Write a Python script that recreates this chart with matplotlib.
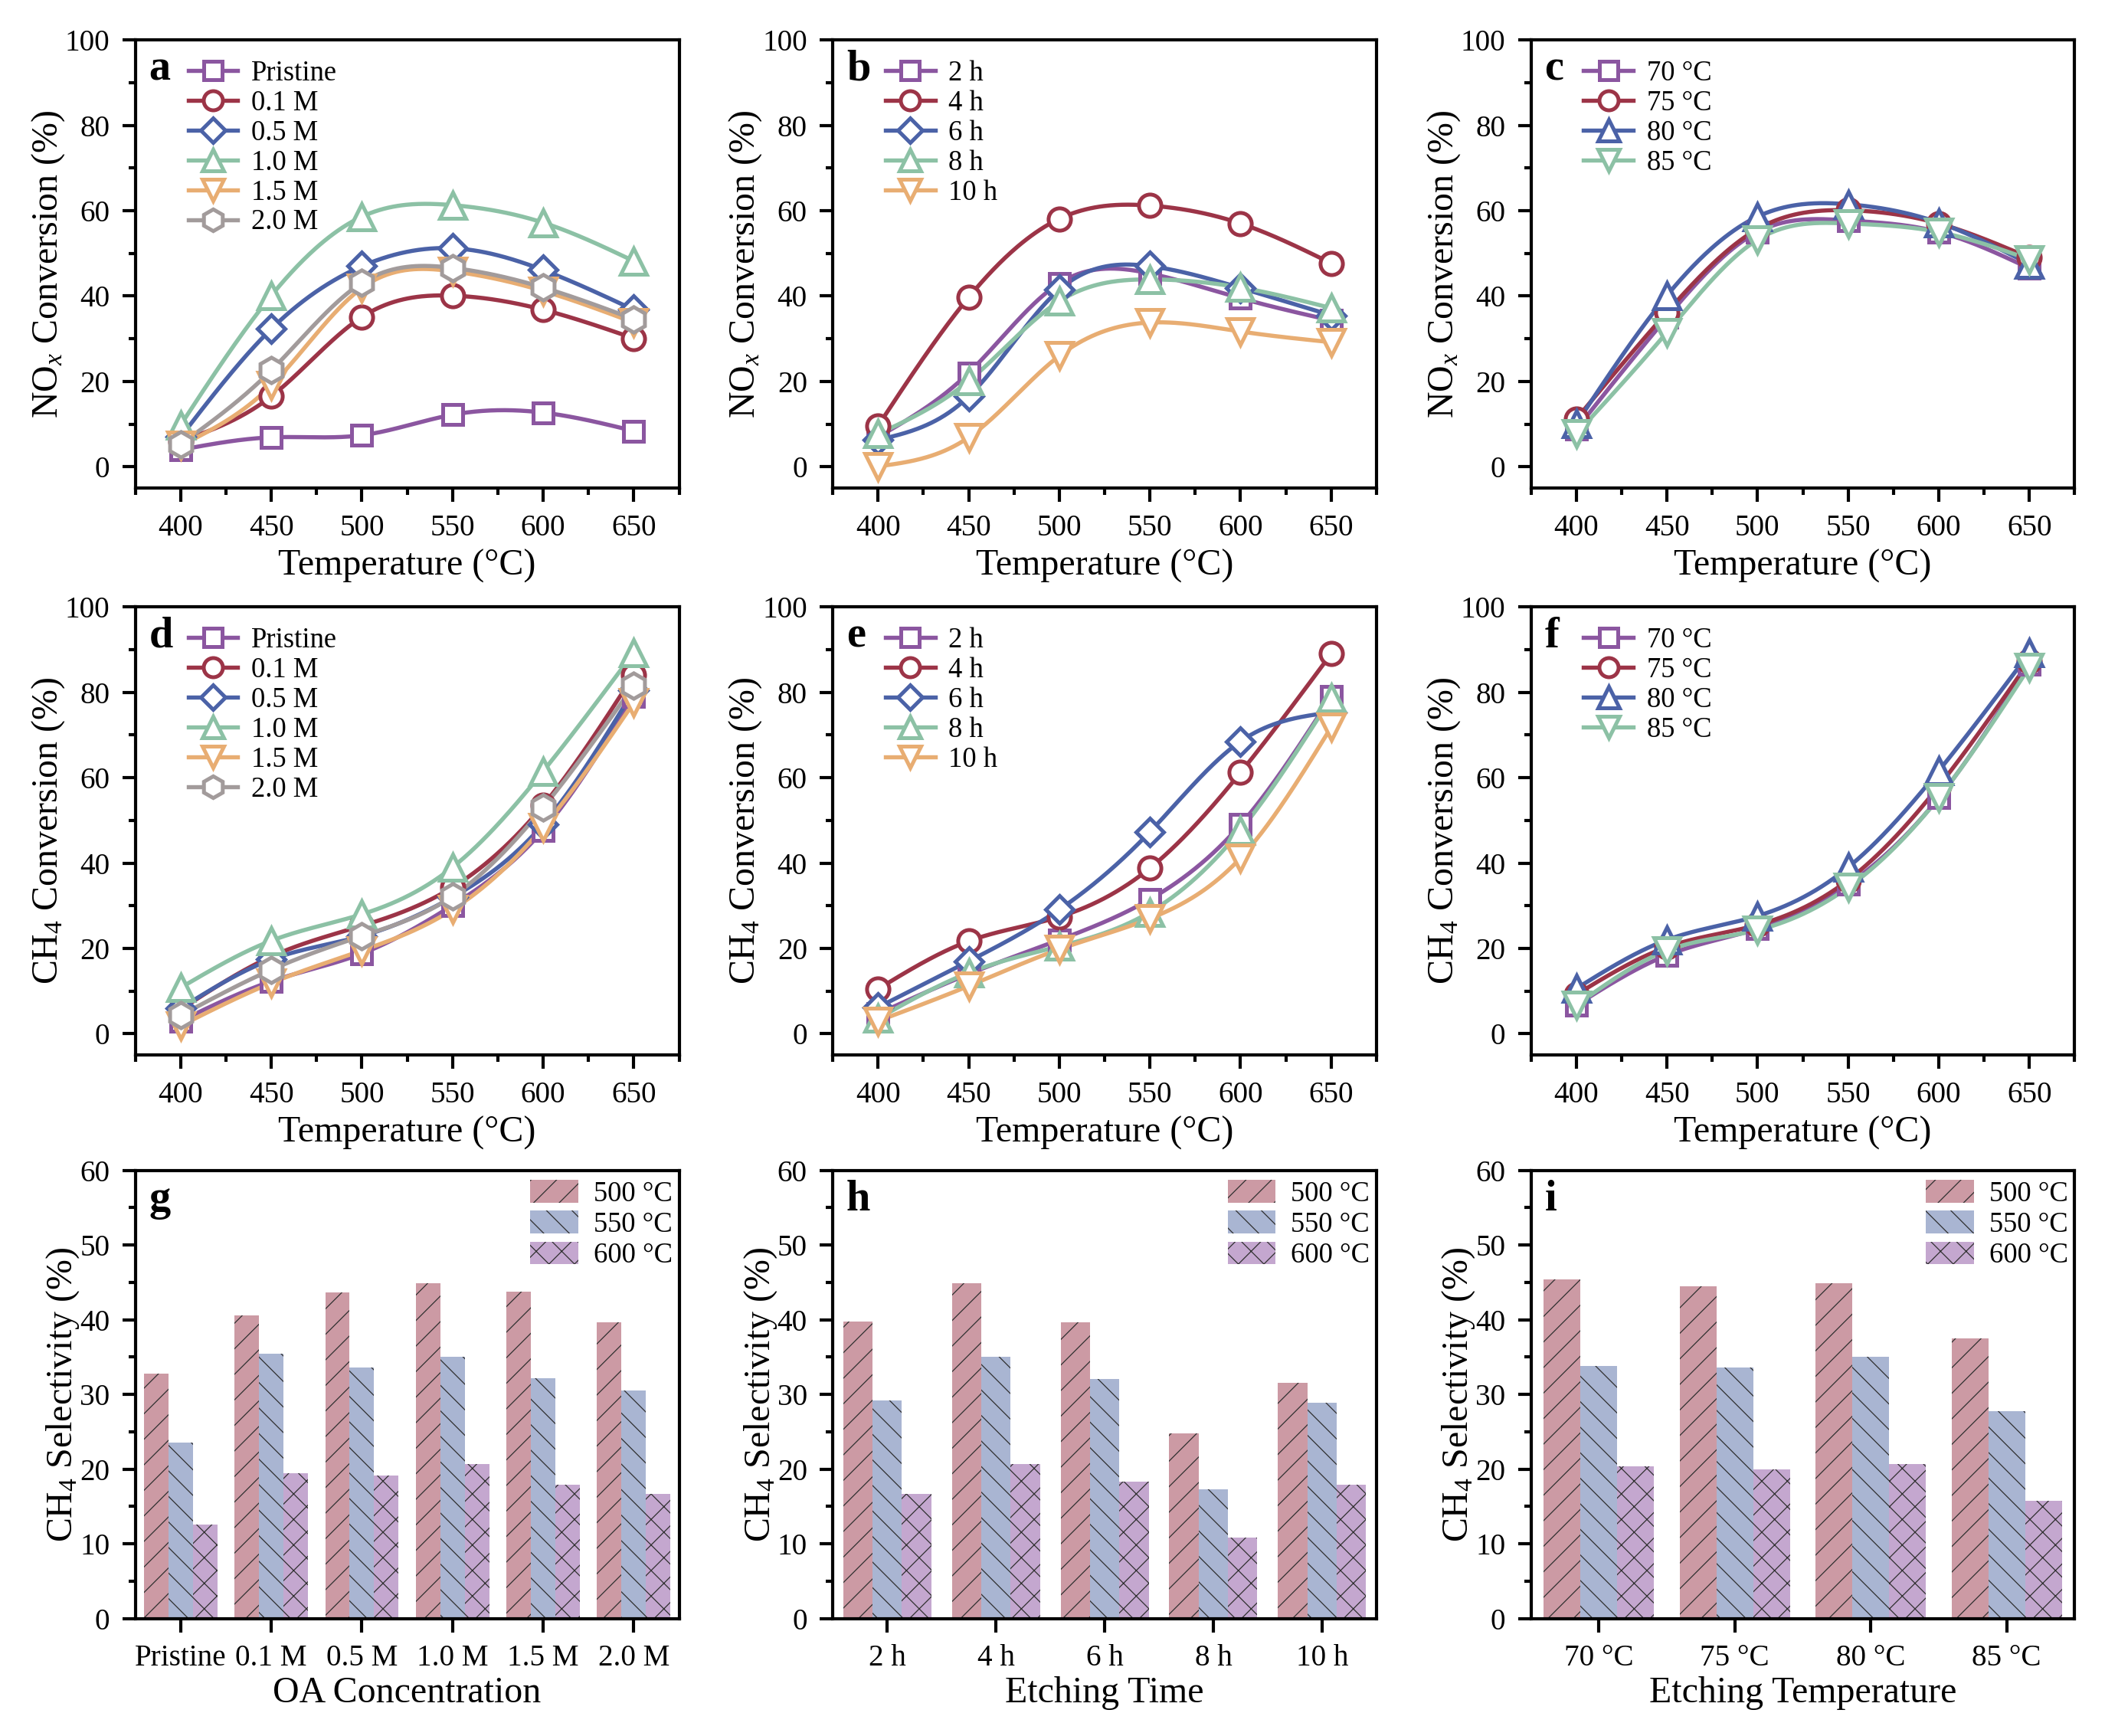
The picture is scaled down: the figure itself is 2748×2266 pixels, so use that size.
import numpy as np
import matplotlib
matplotlib.use("Agg")
import matplotlib.pyplot as plt
from matplotlib.lines import Line2D
from matplotlib.ticker import MultipleLocator

plt.rcParams['font.family'] = ['Liberation Serif', 'DejaVu Serif']
plt.rcParams['mathtext.fontset'] = 'custom'
plt.rcParams['mathtext.rm'] = 'Liberation Serif'
plt.rcParams['mathtext.it'] = 'Liberation Serif:italic'
plt.rcParams['hatch.linewidth'] = 0.3
plt.rcParams['hatch.color'] = '#303030'

# ---------------- data ----------------
temps = [400, 450, 500, 550, 600, 650]

conc_labels = ['Pristine', '0.1 M', '0.5 M', '1.0 M', '1.5 M', '2.0 M']
time_labels = ['2 h', '4 h', '6 h', '8 h', '10 h']
etch_t_labels = ['70 °C', '75 °C', '80 °C', '85 °C']

# NOx conversion (%), panel a
nox_pristine = [4.0, 6.9, 7.4, 12.2, 12.7, 8.4]
nox_01 = [6.0, 16.5, 35.1, 40.1, 36.8, 30.1]
nox_05 = [7.0, 32.3, 47.0, 51.2, 46.1, 36.8]
nox_10 = [9.8, 40.1, 58.6, 61.3, 57.2, 48.2]
nox_15 = [5.0, 19.1, 41.9, 45.8, 41.2, 33.8]
nox_20 = [5.3, 22.6, 43.1, 46.6, 42.0, 34.6]

# NOx conversion (%), panel b
nox_2h = [7.0, 22.0, 43.0, 45.3, 39.5, 34.3]
nox_4h = [9.6, 39.7, 58.1, 61.2, 57.0, 47.7]
nox_6h = [6.3, 16.5, 41.5, 47.0, 41.9, 35.5]
nox_8h = [7.7, 20.1, 38.8, 43.9, 42.0, 37.2]
nox_10h = [0.1, 6.9, 26.0, 33.8, 31.7, 29.2]

# NOx conversion (%), panel c
nox_70 = [8.8, 35.0, 55.0, 57.7, 55.0, 46.5]
nox_75 = [11.2, 36.2, 55.7, 60.1, 57.0, 49.0]
nox_80 = [10.1, 40.1, 58.6, 61.5, 57.2, 47.5]
nox_85 = [7.7, 31.5, 53.2, 57.0, 55.0, 48.6]

# CH4 conversion (%), panel d
ch4_pristine = [3.0, 12.3, 18.8, 30.1, 47.7, 79.0]
ch4_01 = [5.7, 18.1, 25.3, 34.3, 53.5, 84.0]
ch4_05 = [6.0, 17.4, 22.9, 32.0, 49.1, 80.4]
ch4_10 = [10.8, 21.8, 28.0, 39.0, 61.5, 89.3]
ch4_15 = [1.9, 11.9, 19.5, 29.1, 48.4, 77.6]
ch4_20 = [4.3, 15.0, 22.9, 32.2, 53.0, 81.6]

# CH4 conversion (%), panel e
ch4_2h = [4.7, 14.0, 22.0, 31.5, 49.0, 79.0]
ch4_4h = [10.5, 21.7, 27.4, 38.8, 61.2, 89.0]
ch4_6h = [6.2, 17.0, 29.1, 47.3, 68.5, 75.3]
ch4_8h = [3.6, 14.3, 20.5, 28.5, 47.7, 78.7]
ch4_10h = [3.0, 11.2, 19.8, 27.0, 41.2, 71.8]

# CH4 conversion (%), panel f
ch4_70 = [6.7, 18.4, 24.6, 35.0, 55.3, 86.6]
ch4_75 = [9.2, 20.3, 25.5, 36.0, 58.0, 87.3]
ch4_80 = [10.6, 22.0, 27.6, 39.0, 61.6, 89.2]
ch4_85 = [6.7, 19.5, 24.3, 34.3, 55.3, 85.9]

# CH4 selectivity (%), panels g, h, i
sel_g_500 = [32.8, 40.6, 43.6, 44.9, 43.7, 39.6]
sel_g_550 = [23.5, 35.4, 33.6, 35.0, 32.2, 30.5]
sel_g_600 = [12.6, 19.4, 19.1, 20.7, 17.9, 16.7]

sel_h_500 = [39.7, 44.9, 39.6, 24.8, 31.5]
sel_h_550 = [29.2, 35.0, 32.1, 17.3, 28.9]
sel_h_600 = [16.7, 20.7, 18.3, 10.8, 17.9]

sel_i_500 = [45.4, 44.5, 44.9, 37.5]
sel_i_550 = [33.8, 33.6, 35.0, 27.8]
sel_i_600 = [20.4, 20.0, 20.7, 15.8]

# ---------------- styles ----------------
purple = '#8B56A0'
red = '#9C3447'
blue = '#4B62A7'
green = '#8CC1A5'
orange = '#E8AD72'
gray = '#A29B9B'
bar_colors = ['#CC9AA4', '#A9B5D2', '#C4A7CF']
bar_hatches = ['///', '\\\\\\', 'xxx']
msize = {'s': 6.2, 'o': 7.0, 'D': 6.0, '^': 8.2, 'v': 8.2, 'h': 8.0}
leg_msize = {'s': 5.6, 'o': 6.0, 'D': 5.3, '^': 6.8, 'v': 6.8, 'h': 6.8}

TICK = 9.4
LEG = 8.8
LAB = 11.5
LET = 13.5

fig = plt.figure(figsize=(2748 / 300, 2266 / 300), dpi=300)
lefts = [0.0643, 0.3956, 0.7273]
bottoms = [0.7188, 0.3922, 0.0677]
W, H = 0.2583, 0.2582


def spline(x, y, n=300):
    # natural cubic spline, used only to draw the smooth connecting line
    x = np.asarray(x, float)
    y = np.asarray(y, float)
    k = len(x)
    h = np.diff(x)
    A = np.zeros((k, k))
    b = np.zeros(k)
    A[0, 0] = A[-1, -1] = 1
    for i in range(1, k - 1):
        A[i, i - 1] = h[i - 1]
        A[i, i] = 2 * (h[i - 1] + h[i])
        A[i, i + 1] = h[i]
        b[i] = 6 * ((y[i + 1] - y[i]) / h[i] - (y[i] - y[i - 1]) / h[i - 1])
    M = np.linalg.solve(A, b)
    xx = np.linspace(x[0], x[-1], n)
    idx = np.clip(np.searchsorted(x, xx) - 1, 0, k - 2)
    x0, x1 = x[idx], x[idx + 1]
    hh = x1 - x0
    t0, t1 = x1 - xx, xx - x0
    yy = (M[idx] * t0 ** 3 + M[idx + 1] * t1 ** 3) / (6 * hh) \
        + (y[idx] / hh - M[idx] * hh / 6) * t0 + (y[idx + 1] / hh - M[idx + 1] * hh / 6) * t1
    return xx, yy


def style_axes(ax):
    for s in ax.spines.values():
        s.set_linewidth(1.0)
    ax.tick_params(which='both', direction='out', top=False, right=False,
                   labelsize=TICK, width=1.0, pad=3.8)
    ax.tick_params(which='major', length=4.2)
    ax.tick_params(which='minor', length=2.2)


def line_panel(col, row, letter, labels, series, markers, colors, ylabel):
    ax = fig.add_axes([lefts[col], bottoms[row], W, H])
    handles = []
    for lab, ys, m, c in zip(labels, series, markers, colors):
        xx, yy = spline(temps, ys)
        ax.plot(xx, yy, color=c, lw=1.3, zorder=2)
        ax.plot(temps, ys, ls='none', marker=m, ms=msize[m], mfc='white',
                mec=c, mew=1.2, zorder=3)
        handles.append(Line2D([], [], color=c, lw=1.3, marker=m, ms=leg_msize[m],
                              mfc='white', mec=c, mew=1.2, label=lab))
    ax.set_xlim(375, 675)
    ax.set_ylim(-5, 100)
    ax.xaxis.set_major_locator(MultipleLocator(50))
    ax.xaxis.set_minor_locator(MultipleLocator(25))
    ax.yaxis.set_major_locator(MultipleLocator(20))
    ax.yaxis.set_minor_locator(MultipleLocator(10))
    style_axes(ax)
    ax.set_xlabel('Temperature (°C)', fontsize=LAB, labelpad=2.2)
    ax.set_ylabel(ylabel, fontsize=LAB, labelpad=-0.5)
    ax.text(0.025, 0.91, letter, transform=ax.transAxes, fontsize=LET,
            fontweight='bold', va='baseline', ha='left')
    ax.legend(handles=handles, loc='upper left', bbox_to_anchor=(0.097, 0.955),
              frameon=False, fontsize=LEG, handlelength=1.77, handletextpad=0.47,
              labelspacing=0.12, borderpad=0, borderaxespad=0)
    return ax


def bar_panel(col, letter, cats, v500, v550, v600, xlabel):
    ax = fig.add_axes([lefts[col], bottoms[2], W, H])
    x = np.arange(len(cats))
    w = 0.27
    for off, vals, c, hatch, lab in zip([-w, 0, w], [v500, v550, v600], bar_colors,
                                        bar_hatches, ['500 °C', '550 °C', '600 °C']):
        ax.bar(x + off, vals, w, color=c, hatch=hatch, linewidth=0, label=lab, zorder=2)
    ax.set_xlim(-0.5, len(cats) - 0.5)
    ax.set_ylim(0, 60)
    ax.set_xticks(x)
    ax.set_xticklabels(cats)
    ax.yaxis.set_major_locator(MultipleLocator(10))
    ax.yaxis.set_minor_locator(MultipleLocator(5))
    style_axes(ax)
    ax.set_xlabel(xlabel, fontsize=LAB, labelpad=1.2)
    ax.set_ylabel('CH$_4$ Selectivity (%)', fontsize=LAB, labelpad=-0.5)
    ax.text(0.025, 0.91, letter, transform=ax.transAxes, fontsize=LET,
            fontweight='bold', va='baseline', ha='left')
    ax.legend(loc='upper right', bbox_to_anchor=(0.988, 0.978), frameon=False,
              fontsize=LEG, handlelength=1.7, handleheight=0.85, handletextpad=0.55,
              labelspacing=0.13, borderpad=0, borderaxespad=0)
    return ax


nox_lab = 'NO$_x$ Conversion (%)'
ch4_lab = 'CH$_4$ Conversion (%)'

line_panel(0, 0, 'a', conc_labels,
           [nox_pristine, nox_01, nox_05, nox_10, nox_15, nox_20],
           ['s', 'o', 'D', '^', 'v', 'h'], [purple, red, blue, green, orange, gray], nox_lab)
line_panel(1, 0, 'b', time_labels,
           [nox_2h, nox_4h, nox_6h, nox_8h, nox_10h],
           ['s', 'o', 'D', '^', 'v'], [purple, red, blue, green, orange], nox_lab)
line_panel(2, 0, 'c', etch_t_labels,
           [nox_70, nox_75, nox_80, nox_85],
           ['s', 'o', '^', 'v'], [purple, red, blue, green], nox_lab)

line_panel(0, 1, 'd', conc_labels,
           [ch4_pristine, ch4_01, ch4_05, ch4_10, ch4_15, ch4_20],
           ['s', 'o', 'D', '^', 'v', 'h'], [purple, red, blue, green, orange, gray], ch4_lab)
line_panel(1, 1, 'e', time_labels,
           [ch4_2h, ch4_4h, ch4_6h, ch4_8h, ch4_10h],
           ['s', 'o', 'D', '^', 'v'], [purple, red, blue, green, orange], ch4_lab)
line_panel(2, 1, 'f', etch_t_labels,
           [ch4_70, ch4_75, ch4_80, ch4_85],
           ['s', 'o', '^', 'v'], [purple, red, blue, green], ch4_lab)

bar_panel(0, 'g', conc_labels, sel_g_500, sel_g_550, sel_g_600, 'OA Concentration')
bar_panel(1, 'h', time_labels, sel_h_500, sel_h_550, sel_h_600, 'Etching Time')
bar_panel(2, 'i', etch_t_labels, sel_i_500, sel_i_550, sel_i_600, 'Etching Temperature')

fig.savefig('out.png', dpi=300)
